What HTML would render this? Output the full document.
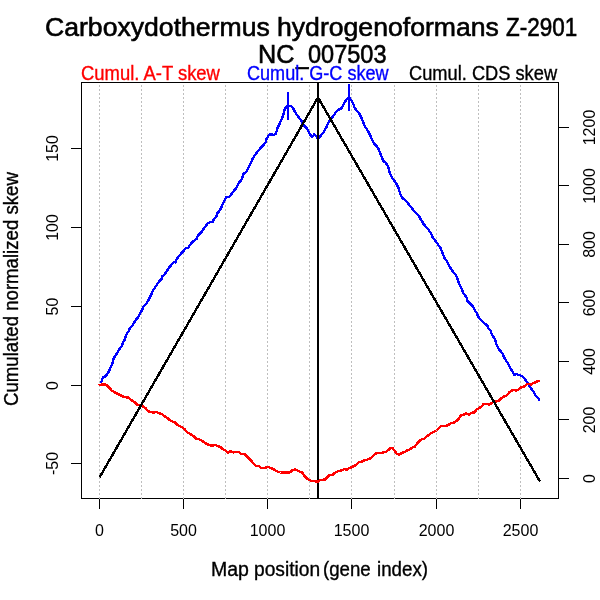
<!DOCTYPE html>
<html><head><meta charset="utf-8"><title>Carboxydothermus hydrogenoformans Z-2901</title>
<style>html,body{margin:0;padding:0;background:#fff;width:600px;height:600px;overflow:hidden}svg{display:block}</style>
</head><body>
<svg width="600" height="600" viewBox="0 0 600 600">
<rect width="600" height="600" fill="#fff"/>
<g stroke="#000" stroke-width="1" fill="none" shape-rendering="crispEdges">
<rect x="81.5" y="82.5" width="477" height="416"/>
<line x1="99.5" y1="498" x2="99.5" y2="509"/>
<line x1="183.5" y1="498" x2="183.5" y2="509"/>
<line x1="267.5" y1="498" x2="267.5" y2="509"/>
<line x1="351.5" y1="498" x2="351.5" y2="509"/>
<line x1="436.5" y1="498" x2="436.5" y2="509"/>
<line x1="520.5" y1="498" x2="520.5" y2="509"/>
<line x1="71" y1="148.5" x2="81" y2="148.5"/>
<line x1="71" y1="227.5" x2="81" y2="227.5"/>
<line x1="71" y1="306.5" x2="81" y2="306.5"/>
<line x1="71" y1="385.5" x2="81" y2="385.5"/>
<line x1="71" y1="463.5" x2="81" y2="463.5"/>
<line x1="558" y1="478.5" x2="569" y2="478.5"/>
<line x1="558" y1="419.5" x2="569" y2="419.5"/>
<line x1="558" y1="361.5" x2="569" y2="361.5"/>
<line x1="558" y1="302.5" x2="569" y2="302.5"/>
<line x1="558" y1="244.5" x2="569" y2="244.5"/>
<line x1="558" y1="185.5" x2="569" y2="185.5"/>
<line x1="558" y1="127.5" x2="569" y2="127.5"/>
</g>
<g stroke="#bebebe" stroke-width="1" stroke-dasharray="2 2" shape-rendering="crispEdges">
<line x1="99.5" y1="85" x2="99.5" y2="499"/>
<line x1="141.5" y1="85" x2="141.5" y2="499"/>
<line x1="183.5" y1="85" x2="183.5" y2="499"/>
<line x1="225.5" y1="85" x2="225.5" y2="499"/>
<line x1="267.5" y1="85" x2="267.5" y2="499"/>
<line x1="309.5" y1="85" x2="309.5" y2="499"/>
<line x1="351.5" y1="85" x2="351.5" y2="499"/>
<line x1="394.5" y1="85" x2="394.5" y2="499"/>
<line x1="436.5" y1="85" x2="436.5" y2="499"/>
<line x1="478.5" y1="85" x2="478.5" y2="499"/>
<line x1="520.5" y1="85" x2="520.5" y2="499"/>
</g>
<g fill="none" stroke-width="2.4" stroke-linejoin="round" stroke-linecap="butt" shape-rendering="crispEdges">
<polyline stroke="#0000ff" points="100.9,382.9 103,377.5 104.7,376.7 106.75,374.6 108.8,371.7 110.1,368.3 111.3,365.8 112.6,362.9 113,360 114.7,356.7 117.2,352.9 118.4,350.4 120.1,348.3 122.2,345.4 123,342.5 124.7,339.6 126.25,334.6 128.3,331.7 130,327.9 132.5,325.4 134.2,322.5 135.8,320 137.9,317.5 139.6,314.2 141.25,311.7 142.9,308.3 143.3,306.7 145.4,304.6 147.1,302.5 148.75,299.6 150.4,296.5 152.3,292 153.75,289.3 156.7,285 158.75,282 161.7,278.75 162,276.7 165,273.75 167,270.8 168.75,268 171.25,265 173.75,262 175.4,262.5 176.7,259.2 178.3,256.7 180.8,254 183.3,251.2 185.8,247.9 187.9,248.3 190,245 192.1,242.1 194.6,240.4 196.7,238.75 197.9,235.8 200.4,233.3 202.5,230.8 204.2,227.9 205.8,225.8 208.3,222.9 210.8,222.1 212.9,221.7 213.75,219.6 215.4,217.5 217.1,215.4 217.5,212.9 219.2,211.25 220.8,208.7 222.1,205.4 224.6,200.4 226.7,196.7 229.2,196.7 230.8,195 232.5,192.5 234.6,190 236.25,188.3 237.9,185 239.2,182.5 241.25,180 242.5,177.1 243.3,174.2 244.6,172.9 246.25,172.1 247.5,169.6 248.75,167.1 250,164.6 251.25,162.1 252.2,159.6 254.6,155.4 257.1,152.1 259.2,149.6 261.7,146.7 264.2,144.2 265.8,142.1 266.25,139.6 267.9,136.7 269.6,134.2 272.1,134.6 274.2,135 275.8,133.75 276.7,130.8 277.5,127.9 279.2,124.6 280.4,121.7 282.1,118.3 283.3,114.6 284.2,111.25 285,108.8 286.3,106.8 288.1,105.7 291,106.25 293.3,108.6 295.1,112.1 297.4,115.6 299.75,118.5 302.1,122 303.8,125.5 306.75,128.4 308.5,131.3 310.25,134.8 312,137.2 314.3,134.25 316.1,136 317.8,138.9 319.6,137.2 321.9,134.25 324.25,131.3 326.6,126.7 328.3,123.2 330,120 333.2,116.2 335.5,112.7 338.4,109.75 341.3,108.6 343.1,105.1 345.4,101 347.75,98.1 349.2,97.5 351.25,100.4 353,103.3 354.75,108 357.1,110.9 359.4,113.8 361.75,118.5 363.5,123.2 365.8,127.8 368.2,131.3 370.5,136 372.5,140.4 374.2,143.75 376.7,146.25 378.3,148.3 379.6,151.7 380.8,155 382.1,157.9 383.3,160.8 385.8,162.9 387.5,165.4 388.75,168.75 389.6,172.1 390.8,175.4 392.5,178.3 394.6,181.25 396.7,184.2 398.3,187.5 399.7,192.1 400.9,195.8 402.6,198.3 405.5,200.4 407.6,202.5 409.25,205 411.3,207.1 413,209.6 414.7,211.7 416.75,213.75 418.8,215.8 420.1,218.3 421.75,220.8 423.4,223.75 425.5,226.25 427.6,228.3 429.25,230.8 430.9,233.3 432.6,237.1 434.7,240 436.75,242.5 438.4,245.4 440.5,247.9 441.75,250.8 443,254.2 444.25,257.5 446.3,260.4 448,263.3 449.25,266.25 451.3,269.2 453.4,272.1 455.5,274.2 456.75,277.1 458.75,282.6 460.4,286.3 462.1,289.7 463.3,293 465.4,295.9 466.7,298 467.1,300.5 469.6,303 471.7,305.1 473.75,307.6 475,310.5 476.7,313 477.9,315.9 480,319.25 482.5,321.75 485,323.8 487.1,325.1 488.5,328.25 490.6,330.75 491.8,334.1 493.5,337 495.2,339.9 496,343.25 497.25,346.2 498.9,349.5 501,351.6 502.7,354.1 503.9,357 505.6,359.9 507.25,362.4 508.9,364.9 510.2,367.8 511.8,370.3 514.2,375 516.25,373.75 518.3,375 520.4,375.4 522.5,376.7 524.6,378.3 526.25,381.25 528.3,383.75 530,386.7 531.7,389.2 533.75,391.7 535,394.6 537.1,397.1 539.2,399.6 540,400"/>
<line stroke="#0000ff" stroke-width="2" x1="288" y1="92" x2="288" y2="120"/>
<line stroke="#0000ff" stroke-width="2" x1="349" y1="84" x2="349" y2="111"/>
<line stroke="#000" stroke-width="2" x1="318" y1="82" x2="318" y2="498"/>
<polyline stroke="#ff0000" points="98.5,385.1 101,384.7 105.6,384.5 107.7,385.9 109.75,388.4 111.8,390.5 113.5,391.75 116,393 118.5,394.25 121,395.5 123.5,396.75 126,397.3 128.1,397.6 130.2,399.25 132.7,400.9 135.2,402.6 137.25,404.7 140.2,405.5 142.7,406.3 145.5,407.9 147.6,410.8 150.5,412.1 153.8,412.5 156.75,412.1 159.7,413.3 162.2,414.2 164.7,416.25 167.2,417.9 169.7,420 172.2,421.5 175.1,422.5 177.2,424.6 179.7,426.25 182.2,427.5 184.7,429.2 186.3,431.25 188.8,433.3 191.3,434.6 193.8,436.25 195.9,438.5 198.8,439.2 201.3,440.4 203.4,441.7 205.5,443.3 208,444.6 210.5,445.4 213,445.4 215.9,445 218,446.25 220.5,447.1 222.6,449.2 225.1,450.4 228,452.5 230.9,451 233.4,452.5 235.9,451.9 238.8,452.1 241.3,454.2 244.7,454.2 246.75,456.25 249.25,458.75 251.75,461.25 253.8,463.75 255.9,465.7 258.8,466 261.3,467.9 263.8,468.3 265.9,467.5 268,467.1 270.9,467.9 273.8,469.3 276.3,470.8 278.8,472.1 280.5,472.5 283.8,472.5 289.7,472.5 292.2,470.4 295.1,469.2 297.6,470.4 300.1,471.7 302.2,472.5 303.8,475 305.9,477.5 308.4,479.6 311.3,480.8 314.7,481.25 318,481.5 320.5,480 322,479.8 324.9,479.6 327,477.5 329.5,475 332.4,475 334.5,472.9 337,471.7 339.9,470.8 342,470.4 344.1,469.2 347,469.6 349.5,467.9 352,467.1 354.1,465.8 356.2,465 358.7,462.1 361.6,461.7 363.7,460.7 366.2,460 368.7,458.75 370.5,458.3 372.6,456.7 374.7,454.2 377.2,452.9 380.5,453.3 383,452.5 385.9,452.1 388.4,450 390.5,447.9 392.6,447.9 394.25,450.4 396.75,453.75 399.25,454.6 401.75,452.9 404.7,452.1 407.2,450.4 409.7,449.6 411.75,447.9 414.7,446.7 416.9,443.8 419,441.3 421.5,439.25 424.4,438.8 426.5,436.3 429,435.1 431.1,433 434,431.75 436.5,430.5 439,428 441.5,425.9 444.8,425.9 447.75,425.5 450.7,423.4 454,422.6 456.5,420.9 459,418.4 460.5,415.75 463.4,414.9 466.3,413.25 468.8,414.9 471.3,412.8 474.25,412.4 476.75,409.5 479.7,407.8 481.75,406.2 483.4,404.1 485.9,403.7 489.25,404.5 491.3,403.25 493.4,402 496.3,401.6 498.8,400.75 500.9,398.7 503.4,396.6 505.5,396.2 507.1,395 509.2,392.5 511.25,390.8 513.3,390 516.25,390.4 518.3,390 520.4,387.5 522.9,387.1 525,385.8 526.7,384.2 529.2,384.2 531.25,384.6 533.3,382.9 535.4,382.5 537.5,381.25 540,380.8"/>
<polyline stroke="#000" points="99.5,477.5 318,97.5 540,481.5"/>
</g>
<g font-family="'Liberation Sans', sans-serif" fill="#000">
<text y="36" font-size="26" stroke="#000" stroke-width="0.6"><tspan x="45" textLength="224.72" lengthAdjust="spacingAndGlyphs">Carboxydothermus</tspan> <tspan x="277" textLength="221.88" lengthAdjust="spacingAndGlyphs">hydrogenoformans</tspan> <tspan x="506" textLength="71.2" lengthAdjust="spacingAndGlyphs">Z-2901</tspan></text>
<text y="63" font-size="26" stroke="#000" stroke-width="0.6"><tspan x="258" textLength="36.46" lengthAdjust="spacingAndGlyphs">NC</tspan><tspan x="296" y="64" textLength="12.54" lengthAdjust="spacingAndGlyphs">_</tspan><tspan x="308" y="63" textLength="78.5" lengthAdjust="spacingAndGlyphs">007503</tspan></text>
<text x="81" y="80" font-size="19.5" fill="#ff0000" stroke="#ff0000" stroke-width="0.35" textLength="138.9" lengthAdjust="spacingAndGlyphs">Cumul. A-T skew</text>
<text x="247" y="80" font-size="19.5" fill="#0000ff" stroke="#0000ff" stroke-width="0.35" textLength="141.65" lengthAdjust="spacingAndGlyphs">Cumul. G-C skew</text>
<text x="409" y="80" font-size="19.5" stroke="#000" stroke-width="0.35" textLength="148.06" lengthAdjust="spacingAndGlyphs">Cumul. CDS skew</text>
<text y="576" font-size="19.5" stroke="#000" stroke-width="0.35"><tspan x="211" textLength="37.94" lengthAdjust="spacingAndGlyphs">Map</tspan> <tspan x="254" textLength="66.17" lengthAdjust="spacingAndGlyphs">position</tspan> <tspan x="323" textLength="47.75" lengthAdjust="spacingAndGlyphs">(gene</tspan> <tspan x="377" textLength="51" lengthAdjust="spacingAndGlyphs">index)</tspan></text>
<text transform="translate(18,406) rotate(-90)" font-size="19.5" stroke="#000" stroke-width="0.35" textLength="233.86" lengthAdjust="spacingAndGlyphs">Cumulated normalized skew</text>
<text x="99.5" y="536" font-size="16" text-anchor="middle">0</text>
<text x="183.5" y="536" font-size="16" text-anchor="middle">500</text>
<text x="267.5" y="536" font-size="16" text-anchor="middle">1000</text>
<text x="351.5" y="536" font-size="16" text-anchor="middle">1500</text>
<text x="436.5" y="536" font-size="16" text-anchor="middle">2000</text>
<text x="520.5" y="536" font-size="16" text-anchor="middle">2500</text>
<text transform="translate(58,148.5) rotate(-90)" font-size="16" text-anchor="middle">150</text>
<text transform="translate(58,227.5) rotate(-90)" font-size="16" text-anchor="middle">100</text>
<text transform="translate(58,306.5) rotate(-90)" font-size="16" text-anchor="middle">50</text>
<text transform="translate(58,385.5) rotate(-90)" font-size="16" text-anchor="middle">0</text>
<text transform="translate(58,463.5) rotate(-90)" font-size="16" text-anchor="middle">-50</text>
<text transform="translate(595,478.5) rotate(-90)" font-size="16" text-anchor="middle">0</text>
<text transform="translate(595,420) rotate(-90)" font-size="16" text-anchor="middle">200</text>
<text transform="translate(595,361.5) rotate(-90)" font-size="16" text-anchor="middle">400</text>
<text transform="translate(595,303) rotate(-90)" font-size="16" text-anchor="middle">600</text>
<text transform="translate(595,244.5) rotate(-90)" font-size="16" text-anchor="middle">800</text>
<text transform="translate(595,186) rotate(-90)" font-size="16" text-anchor="middle">1000</text>
<text transform="translate(595,127.5) rotate(-90)" font-size="16" text-anchor="middle">1200</text>
</g>
</svg>
</body></html>
